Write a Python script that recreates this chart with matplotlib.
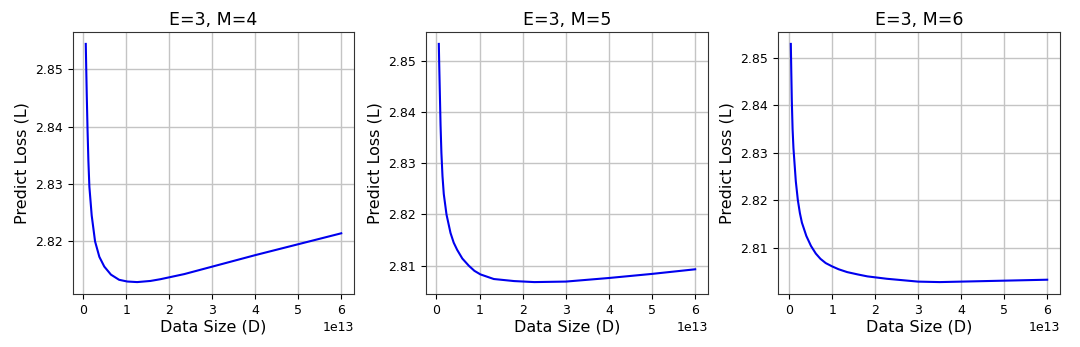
import matplotlib
matplotlib.use("Agg")
import matplotlib.pyplot as plt
from matplotlib.ticker import MultipleLocator, FormatStrFormatter

# predicted loss vs. data size, one panel per M (E fixed at 3)
titles = ["E=3, M=4", "E=3, M=5", "E=3, M=6"]

d_m4 = [0.054, 0.065, 0.077, 0.095, 0.115, 0.138, 0.192, 0.27, 0.37, 0.485, 0.64,
        0.83, 1.02, 1.25, 1.56, 1.79, 2.35, 3.0, 4.0, 5.0, 6.0]
loss_m4 = [2.8544, 2.8500, 2.8455, 2.8395, 2.8340, 2.8295, 2.8245, 2.8200, 2.8173,
           2.8156, 2.8142, 2.8133, 2.8130, 2.8129, 2.8131, 2.8134, 2.8143, 2.8156,
           2.8176, 2.8195, 2.8214]

d_m5 = [0.055, 0.065, 0.078, 0.095, 0.115, 0.14, 0.17, 0.233, 0.326, 0.40, 0.48,
        0.6, 0.75, 0.88, 1.02, 1.33, 1.8, 2.27, 3.0, 4.0, 5.0, 6.0]
loss_m5 = [2.8533, 2.8490, 2.8440, 2.8375, 2.8320, 2.8275, 2.8240, 2.8200, 2.8164,
           2.8145, 2.8131, 2.8114, 2.8100, 2.8090, 2.8083, 2.8074, 2.8070, 2.8068,
           2.8069, 2.8076, 2.8084, 2.8093]

d_m6 = [0.039, 0.05, 0.062, 0.08, 0.10, 0.155, 0.203, 0.25, 0.297, 0.4, 0.508,
        0.62, 0.727, 0.85, 1.0, 1.15, 1.35, 1.6, 1.82, 2.27, 3.0, 3.5, 4.0, 5.0, 6.0]
loss_m6 = [2.8529, 2.8470, 2.8410, 2.8350, 2.8310, 2.8240, 2.8200, 2.8173, 2.8153,
           2.8125, 2.8104, 2.8088, 2.8077, 2.8068, 2.8061, 2.8055, 2.8049, 2.8044,
           2.8040, 2.8035, 2.8029, 2.8028, 2.8029, 2.8031, 2.8033]

series = [(d_m4, loss_m4), (d_m5, loss_m5), (d_m6, loss_m6)]

W, H = 1080, 347
# axes boxes in pixels: left, right
boxes = [(73, 354), (426, 708), (778, 1060)]
top, bottom = 32, 294

fig = plt.figure(figsize=(W / 100, H / 100), dpi=100)

for (x0, x1), title, (d, loss) in zip(boxes, titles, series):
    ax = fig.add_axes([x0 / W, 1 - bottom / H, (x1 - x0) / W, (bottom - top) / H])
    ax.plot([v * 1e13 for v in d], loss, color="#0000ee", linewidth=1.5)
    ax.set_title(title, fontsize=12.5, pad=5)
    ax.set_xlabel("Data Size (D)", fontsize=11.5, labelpad=2)
    ax.set_ylabel("Predict Loss (L)", fontsize=11.5, labelpad=4)
    ax.yaxis.set_major_locator(MultipleLocator(0.01))
    ax.yaxis.set_major_formatter(FormatStrFormatter("%.2f"))
    ax.xaxis.set_major_locator(MultipleLocator(1e13))
    ax.tick_params(labelsize=9)
    ax.xaxis.get_offset_text().set_fontsize(9)
    ax.grid(True, color="#c4c4c4", linewidth=1)
    ax.set_axisbelow(True)
    for s in ax.spines.values():
        s.set_color("#333333")

fig.savefig("out.png", dpi=100)
